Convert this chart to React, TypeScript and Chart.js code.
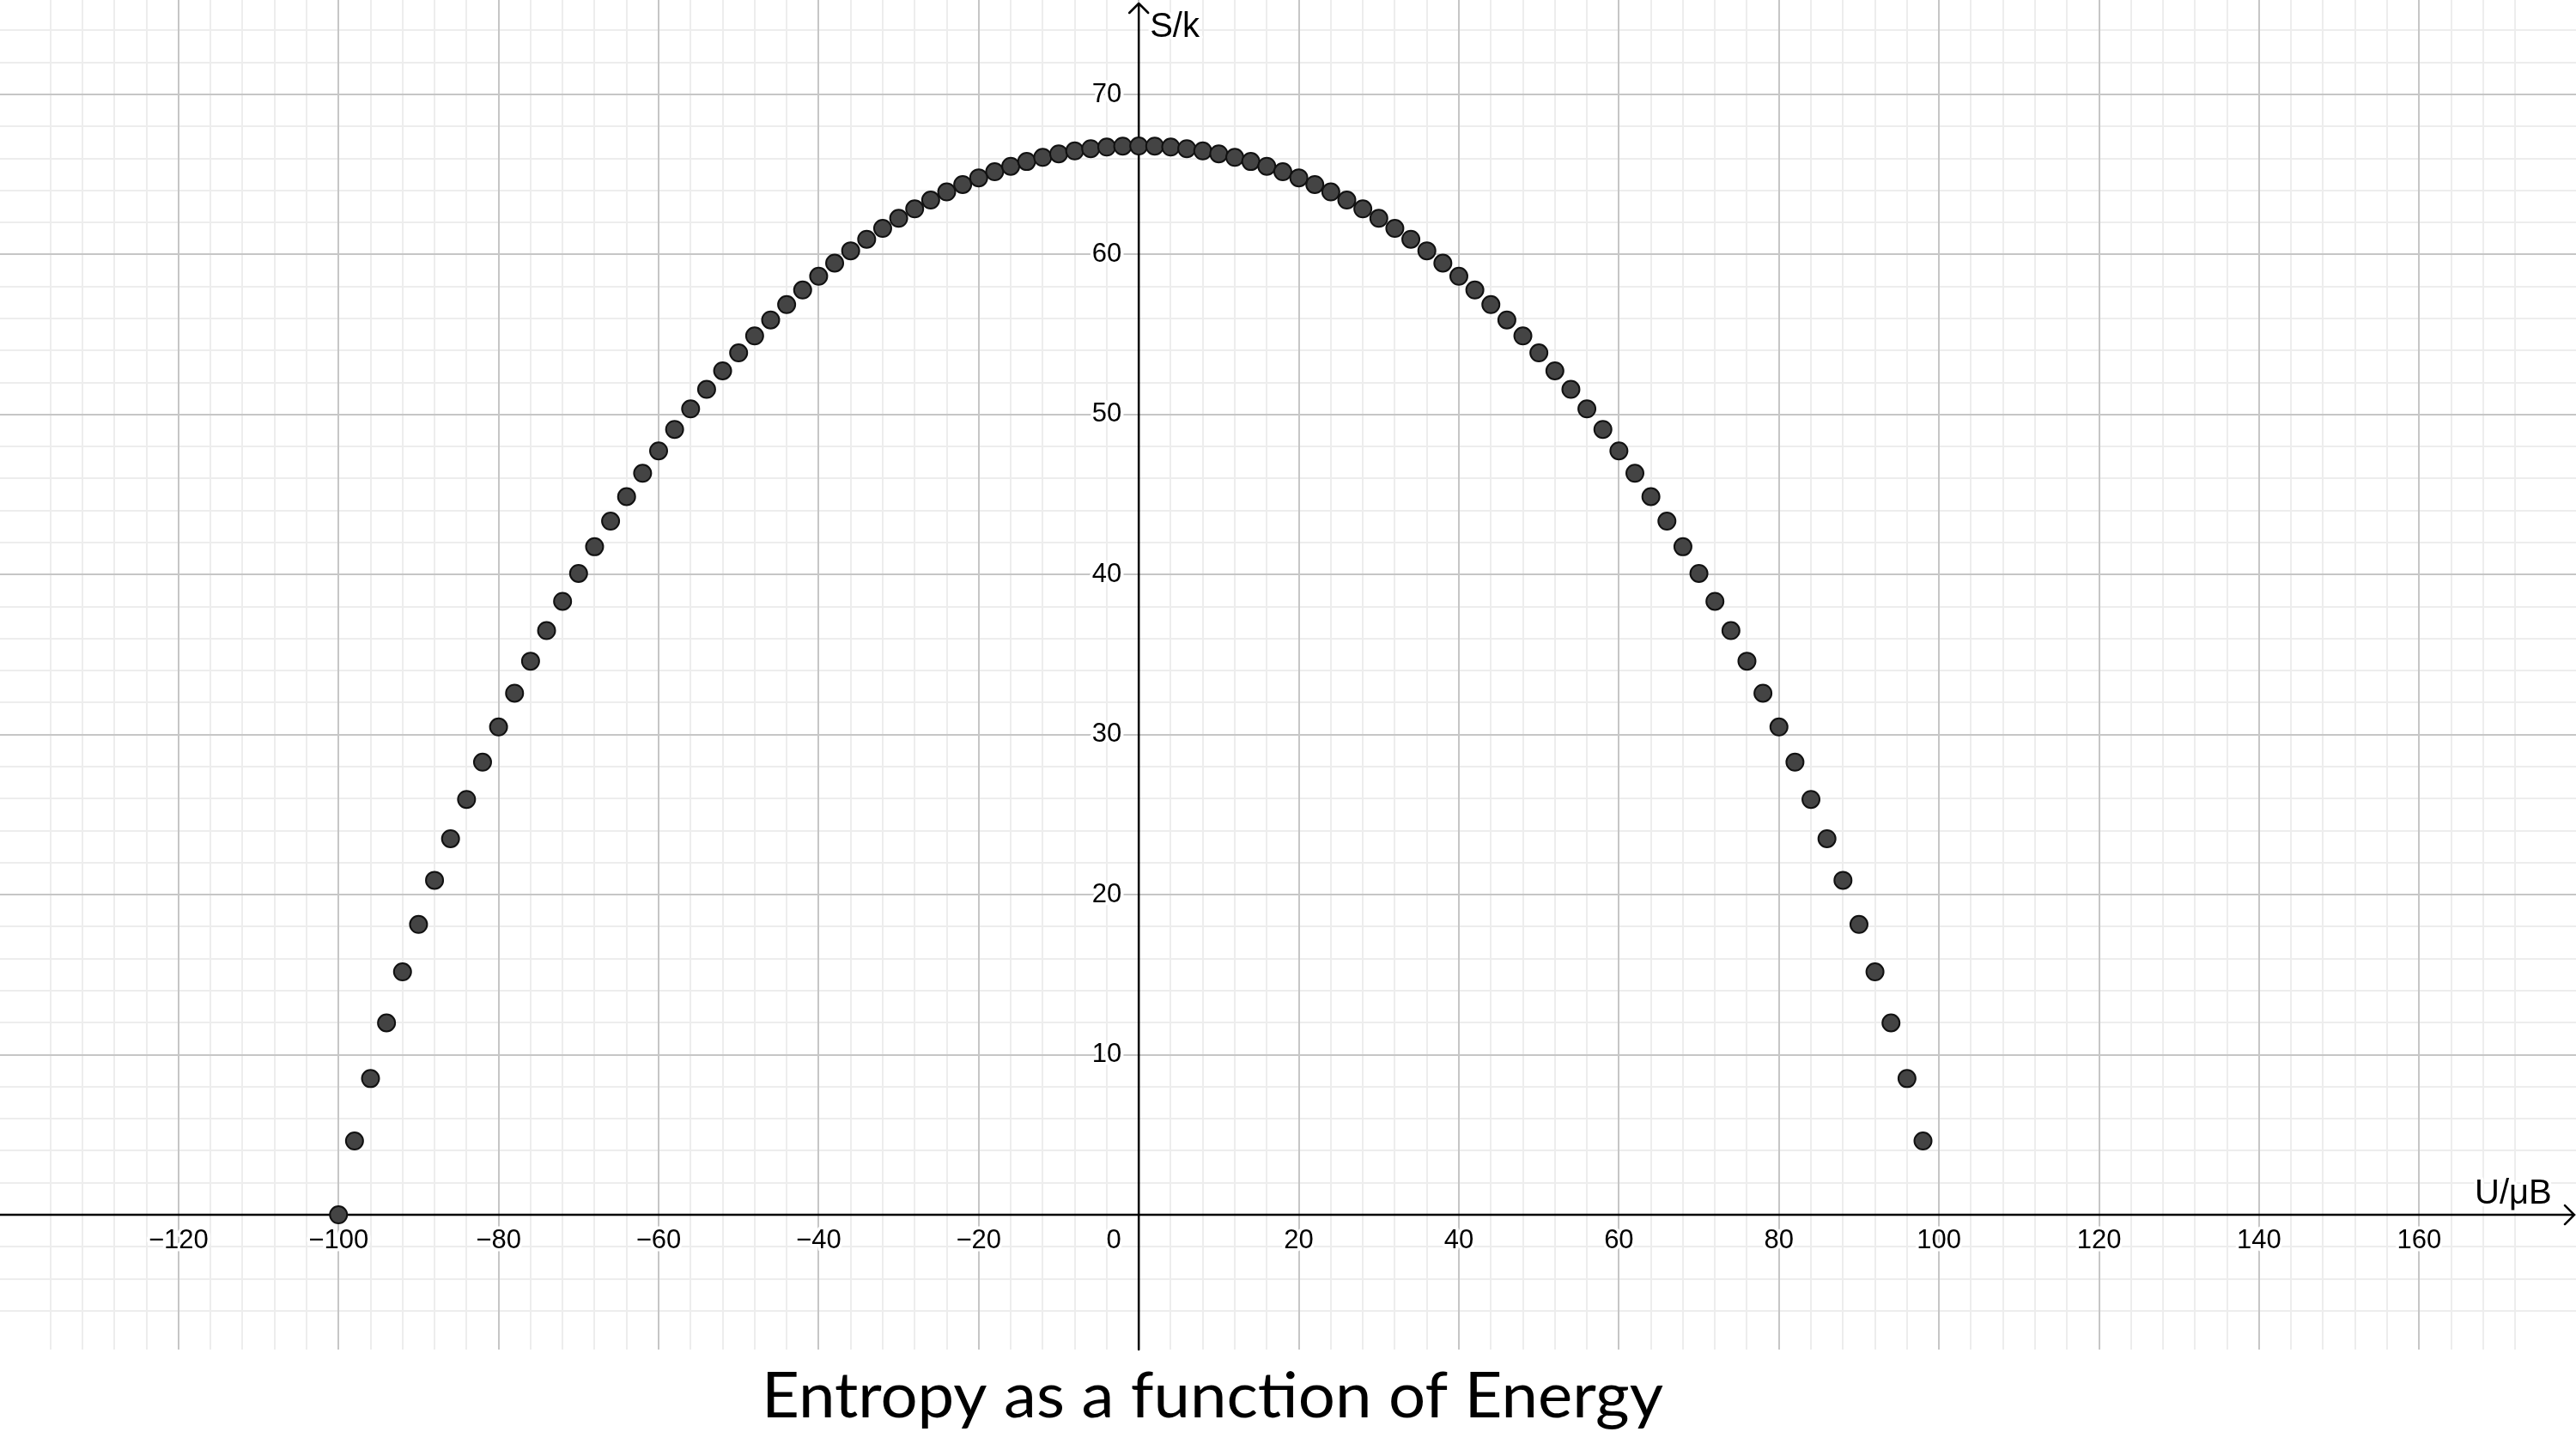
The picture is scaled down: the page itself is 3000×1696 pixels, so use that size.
import React, { useEffect, useRef } from 'react';
import { Chart, registerables } from 'chart.js';

Chart.register(...registerables);

// U/μB values of the plotted states
const energy = [
  -100, -98, -96, -94, -92, -90, -88, -86, -84, -82,
  -80, -78, -76, -74, -72, -70, -68, -66, -64, -62,
  -60, -58, -56, -54, -52, -50, -48, -46, -44, -42,
  -40, -38, -36, -34, -32, -30, -28, -26, -24, -22,
  -20, -18, -16, -14, -12, -10, -8, -6, -4, -2,
  0, 2, 4, 6, 8, 10, 12, 14, 16, 18,
  20, 22, 24, 26, 28, 30, 32, 34, 36, 38,
  40, 42, 44, 46, 48, 50, 52, 54, 56, 58,
  60, 62, 64, 66, 68, 70, 72, 74, 76, 78,
  80, 82, 84, 86, 88, 90, 92, 94, 96, 98,
];

// S/k
const entropy = [
  0, 4.61, 8.51, 11.99, 15.18, 18.14, 20.9, 23.5, 25.95, 28.28,
  30.48, 32.59, 34.59, 36.5, 38.33, 40.07, 41.74, 43.34, 44.87, 46.33,
  47.73, 49.07, 50.35, 51.57, 52.73, 53.85, 54.91, 55.91, 56.87, 57.78,
  58.64, 59.46, 60.23, 60.95, 61.63, 62.26, 62.85, 63.4, 63.91, 64.37,
  64.79, 65.17, 65.51, 65.81, 66.07, 66.29, 66.47, 66.61, 66.71, 66.77,
  66.78, 66.77, 66.71, 66.61, 66.47, 66.29, 66.07, 65.81, 65.51, 65.17,
  64.79, 64.37, 63.91, 63.4, 62.85, 62.26, 61.63, 60.95, 60.23, 59.46,
  58.64, 57.78, 56.87, 55.91, 54.91, 53.85, 52.73, 51.57, 50.35, 49.07,
  47.73, 46.33, 44.87, 43.34, 41.74, 40.07, 38.33, 36.5, 34.59, 32.59,
  30.48, 28.28, 25.95, 23.5, 20.9, 18.14, 15.18, 11.99, 8.51, 4.61,
];

const xTickValues = [-120, -100, -80, -60, -40, -20, 20, 40, 60, 80, 100, 120, 140, 160];
const yTickValues = [10, 20, 30, 40, 50, 60, 70];
const xAxisTitle = 'U/μB';
const yAxisTitle = 'S/k';
const chartTitle = 'Entropy as a function of Energy';

const X_MIN = -142.3;
const X_MAX = 179.6;
const Y_MIN = -8.42;
const Y_MAX = 75.9;

const fmt = (v: number) => (v < 0 ? '\u2212' + Math.abs(v) : String(v));

// keep only gridlines on whole multiples of the step (drop the min/max bounds)
const onStep = (step: number) => (scale: any) => {
  scale.ticks = scale.ticks.filter((t: any) => Math.abs(t.value / step - Math.round(t.value / step)) < 1e-6);
};

const gridScale = (axis: 'x' | 'y', step: number, color: string, z: number) => ({
  type: 'linear' as const,
  axis,
  position: axis === 'x' ? ('bottom' as const) : ('left' as const),
  min: axis === 'x' ? X_MIN : Y_MIN,
  max: axis === 'x' ? X_MAX : Y_MAX,
  ticks: { display: false, stepSize: step },
  grid: { color, lineWidth: 2, drawTicks: false, z },
  border: { display: false },
  afterBuildTicks: onStep(step),
  afterFit: (s: any) => {
    if (axis === 'x') s.height = 0;
    else s.width = 0;
  },
});

const haloText = (ctx: CanvasRenderingContext2D, text: string, x: number, y: number) => {
  ctx.lineJoin = 'round';
  ctx.strokeStyle = '#ffffff';
  ctx.lineWidth = 7;
  ctx.strokeText(text, x, y);
  ctx.fillStyle = '#000000';
  ctx.fillText(text, x, y);
};

const axesPlugin = {
  id: 'geoAxes',
  beforeDatasetsDraw(chart: any) {
    const { ctx, chartArea, scales } = chart;
    const xs = scales.x;
    const ys = scales.y;
    const x0 = xs.getPixelForValue(0);
    const y0 = ys.getPixelForValue(0);
    ctx.save();
    ctx.strokeStyle = '#000000';
    ctx.lineWidth = 2.5;
    ctx.lineCap = 'round';
    ctx.lineJoin = 'round';
    // y axis with arrow
    ctx.beginPath();
    ctx.moveTo(x0, chartArea.bottom);
    ctx.lineTo(x0, chartArea.top + 4);
    ctx.moveTo(x0 - 11, chartArea.top + 15);
    ctx.lineTo(x0, chartArea.top + 4);
    ctx.lineTo(x0 + 11, chartArea.top + 15);
    ctx.stroke();
    // x axis with arrow
    ctx.beginPath();
    ctx.moveTo(chartArea.left, y0);
    ctx.lineTo(chartArea.right - 2, y0);
    ctx.moveTo(chartArea.right - 13, y0 - 11);
    ctx.lineTo(chartArea.right - 2, y0);
    ctx.lineTo(chartArea.right - 13, y0 + 11);
    ctx.stroke();

    ctx.font = '31px "Liberation Sans", Arial, sans-serif';
    ctx.textAlign = 'center';
    ctx.textBaseline = 'middle';
    xTickValues.forEach((v) => haloText(ctx, fmt(v), xs.getPixelForValue(v), y0 + 30));
    haloText(ctx, '0', x0 - 29, y0 + 30);
    ctx.textAlign = 'right';
    yTickValues.forEach((v) => haloText(ctx, fmt(v), x0 - 20, ys.getPixelForValue(v)));

    ctx.font = '40px "Liberation Sans", Arial, sans-serif';
    ctx.textBaseline = 'alphabetic';
    ctx.textAlign = 'left';
    haloText(ctx, yAxisTitle, x0 + 13, chartArea.top + 43);
    haloText(ctx, xAxisTitle, chartArea.right - 118, y0 - 13);
    ctx.restore();
  },
  afterDraw(chart: any) {
    const { ctx, chartArea } = chart;
    ctx.save();
    ctx.font = '73px Lato, "Open Sans", sans-serif';
    ctx.textAlign = 'left';
    ctx.textBaseline = 'alphabetic';
    ctx.fillStyle = '#000000';
    const w = ctx.measureText(chartTitle).width;
    const left = 887;
    const base = chartArea.bottom + 79;
    ctx.translate(left, base);
    ctx.scale(1050 / w, 1);
    ctx.fillText(chartTitle, 0, 0);
    ctx.restore();
  },
};

const App: React.FC = () => {
  const canvasRef = useRef<HTMLCanvasElement | null>(null);

  useEffect(() => {
    document.body.style.margin = '0';
    if (!canvasRef.current) return;
    const ctx = canvasRef.current.getContext('2d');
    if (!ctx) return;

    const chart = new Chart(ctx, {
      type: 'scatter',
      data: {
        datasets: [
          {
            label: 'S/k',
            data: energy.map((u, i) => ({ x: u, y: entropy[i] })),
            pointRadius: 10,
            pointBorderWidth: 2,
            pointBackgroundColor: '#444444',
            pointBorderColor: '#111111',
            showLine: false,
            xAxisID: 'x',
            yAxisID: 'y',
          },
        ],
      },
      options: {
        responsive: false,
        animation: false,
        devicePixelRatio: 1,
        layout: { autoPadding: false, padding: { left: 0, right: 0, top: 0, bottom: 124 } },
        plugins: { legend: { display: false }, tooltip: { enabled: false }, title: { display: false } },
        scales: {
          xMinor: gridScale('x', 4, '#ededed', -3),
          yMinor: gridScale('y', 2, '#ededed', -3),
          x: gridScale('x', 20, '#c6c6c6', -2),
          y: gridScale('y', 10, '#c6c6c6', -2),
        } as any,
      },
      plugins: [axesPlugin],
    });

    return () => chart.destroy();
  }, []);

  return (
    <div style={{ width: 3000, height: 1696, background: '#ffffff' }}>
      <canvas ref={canvasRef} width={3000} height={1696} style={{ display: 'block', width: 3000, height: 1696 }} />
    </div>
  );
};

export default App;
